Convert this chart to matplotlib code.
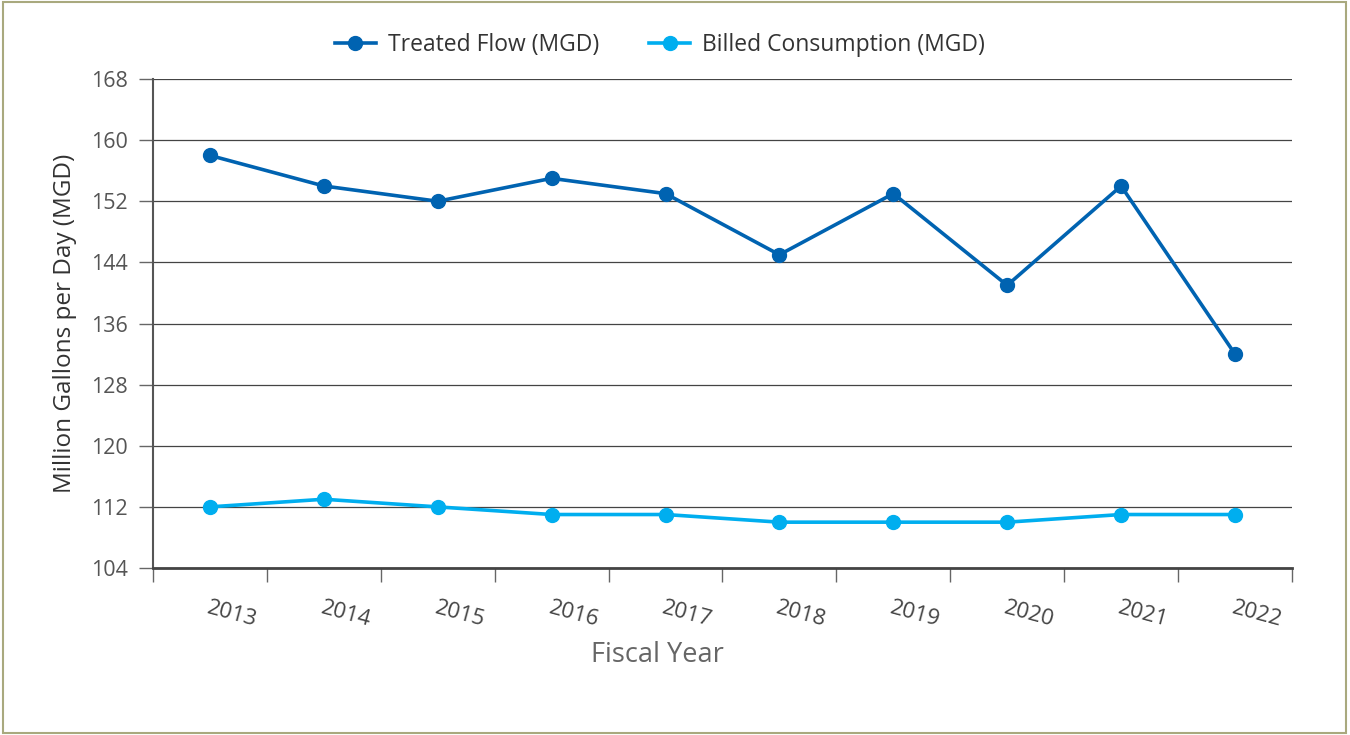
import matplotlib.pyplot as plt
from matplotlib.patches import Rectangle

years = ['2013', '2014', '2015', '2016', '2017', '2018', '2019', '2020', '2021', '2022']
treated_flow = [158, 154, 152, 155, 153, 145, 153, 141, 154, 132]
billed_consumption = [112, 113, 112, 111, 111, 110, 110, 110, 111, 111]
y_ticks = [104, 112, 120, 128, 136, 144, 152, 160, 168]

plt.rcParams['font.family'] = ['Open Sans', 'DejaVu Sans']

fig = plt.figure(figsize=(13.5, 7.35), dpi=100)
ax = fig.add_axes([0.1133, 0.2272, 0.8437, 0.6653])

x = list(range(len(years)))
ax.plot(x, treated_flow, color='#0063B1', lw=2.6, marker='o', ms=10,
        label='Treated Flow (MGD)', zorder=3)
ax.plot(x, billed_consumption, color='#00AEEF', lw=2.6, marker='o', ms=10,
        label='Billed Consumption (MGD)', zorder=3)

ax.set_xlim(-0.5, len(years) - 0.5)
ax.set_ylim(104, 168)
ax.set_yticks(y_ticks)
ax.yaxis.grid(True, color='#444444', lw=0.9)
ax.set_axisbelow(True)

# ticks at category boundaries, labels at category centres
ax.set_xticks([i - 0.5 for i in range(len(years) + 1)])
ax.set_xticklabels([])
ax.set_xticks(x, minor=True)
ax.set_xticklabels(years, minor=True, rotation=-15, ha='left',
                   rotation_mode='anchor', fontsize=16, color='#444444')
ax.tick_params(axis='x', which='minor', length=0, pad=21)
ax.tick_params(axis='x', which='major', length=10, color='#666666', width=1)
ax.tick_params(axis='y', length=10, color='#666666', width=1,
               labelsize=15.5, labelcolor='#555555', pad=8)

for s in ['top', 'right']:
    ax.spines[s].set_visible(False)
ax.spines['left'].set_color('#555555')
ax.spines['left'].set_linewidth(1.5)
ax.spines['bottom'].set_color('#444444')
ax.spines['bottom'].set_linewidth(2)

ax.set_ylabel('Million Gallons per Day (MGD)', fontsize=17.5, color='#333333', labelpad=10)
ax.set_xlabel('Fiscal Year', fontsize=19.5, color='#666666')
ax.xaxis.set_label_coords(0.443, -0.15)

leg = ax.legend(loc='lower center', bbox_to_anchor=(0.445, 1.0), ncol=2, frameon=False,
                fontsize=16.5, handlelength=1.8, handletextpad=0.5, columnspacing=2.2,
                borderaxespad=0.55)
for t in leg.get_texts():
    t.set_color('#333333')

fig.patches.append(Rectangle((0.002, 0.003), 0.995, 0.994, transform=fig.transFigure,
                             fill=False, edgecolor='#A9A97E', lw=1.5))

fig.savefig('out.png', dpi=100)
